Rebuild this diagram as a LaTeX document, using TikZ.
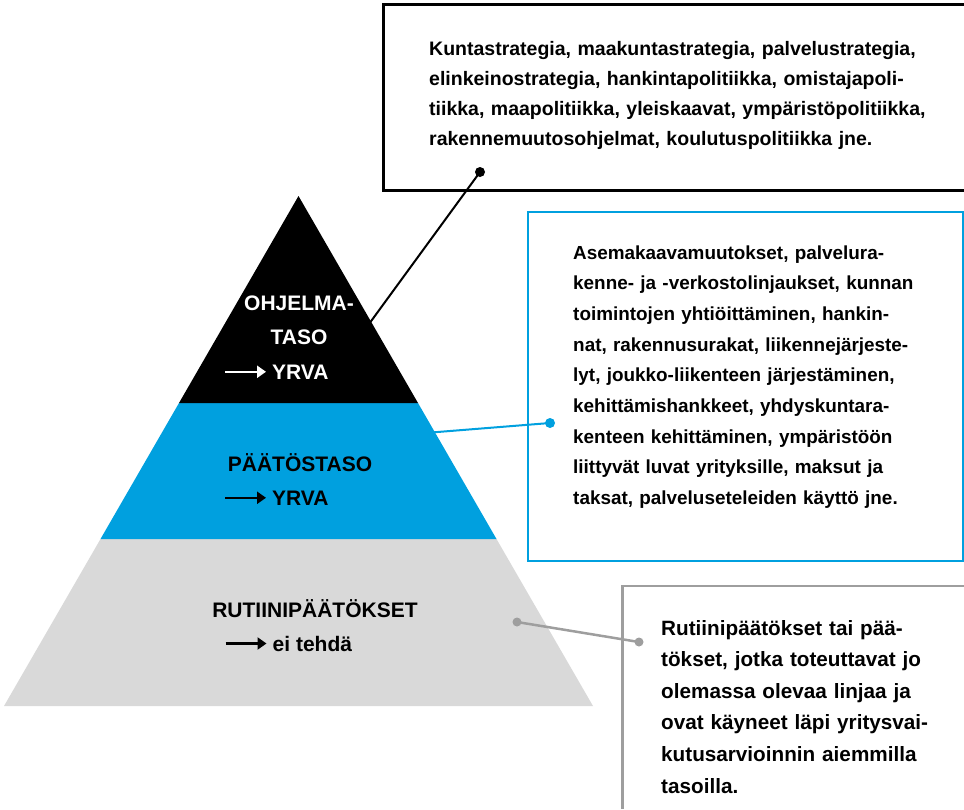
\documentclass[tikz,border=0pt]{standalone}
\usepackage{fontspec}
\setmainfont{Liberation Sans}
\newfontfamily\boxfont{Liberation Sans}
\usetikzlibrary{arrows.meta}

\definecolor{tierblack}{RGB}{0,0,0}
\definecolor{tierblue}{RGB}{0,160,223}
\definecolor{tiergray}{RGB}{217,217,217}
\definecolor{leadgray}{RGB}{158,158,158}

\tikzset{
  tierlabel/.style={inner sep=0pt, font=\bfseries\fontsize{21}{34}\selectfont},
  boxtext/.style={inner sep=0pt, anchor=base west, align=left, text width=560pt},
  boxframe/.style={line join=miter},
  lead/.style={line width=2pt},
  dot/.style={circle, inner sep=0pt, minimum size=10pt},
  pointer/.style={line width=2.4pt, -{Triangle[length=9pt,width=12pt]}},
}

\begin{document}
\begin{tikzpicture}[x=1pt, y=-1pt]

  %% ==== pyramid bands ====
  \fill[tiergray]  (4,706) -- (100.5,539) -- (496.5,539) -- (593,706) -- cycle;
  \fill[tierblue]  (100.5,539) -- (179,403) -- (418,403) -- (496.5,539) -- cycle;
  \fill[tierblack] (179,403) -- (298.5,196) -- (418,403) -- cycle;

  %% ==== frames (box 1 and box 3 run off the page) ====
  \draw[boxframe, black, line width=3pt] (964,4.7) -- (383.5,4.7) -- (383.5,190.3) -- (964,190.3);
  \draw[boxframe, tierblue, line width=2pt] (527.8,211.5) rectangle (962.5,560.5);
  \draw[boxframe, leadgray, line width=2.5pt] (964,586) -- (622.7,586) -- (622.7,809);

  %% ==== leads ====
  \coordinate (ohjin) at (350,350);
  \node[dot, fill=black] (ohjdot) at (480,172) {};
  \draw[lead, black] (ohjin) -- (ohjdot.center);

  \coordinate (paain) at (400,435);
  \node[dot, fill=tierblue] (paadot) at (550,423) {};
  \draw[lead, tierblue] (paain) -- (paadot.center);

  \node[dot, fill=leadgray, minimum size=9pt] (rutin) at (517,622) {};
  \node[dot, fill=leadgray, minimum size=9pt] (rutdot) at (639,642) {};
  \draw[lead, leadgray, line width=2.5pt] (rutin.center) -- (rutdot.center);

  %% ==== tier labels ====
  \node[tierlabel, text=white, text width=150pt, align=center, anchor=base] (ohjlabel) at (299,310) {OHJELMA-\\TASO};
  \node[tierlabel, text=white, anchor=base west] (ohjyrva) at (272,379) {YRVA};
  \draw[pointer, white] ([xshift=-47pt]ohjyrva.west) -- ([xshift=-6pt]ohjyrva.west);

  \node[tierlabel, anchor=base] (paalabel) at (300,471) {PÄÄTÖSTASO};
  \node[tierlabel, anchor=base west] (paayrva) at (272,505) {YRVA};
  \draw[pointer] ([xshift=-47pt]paayrva.west) -- ([xshift=-6pt]paayrva.west);

  \node[tierlabel, anchor=base] (rutlabel) at (315,617) {RUTIINIPÄÄTÖKSET};
  \node[tierlabel, anchor=base west] (rutei) at (272.5,651) {ei tehdä};
  \draw[pointer] ([xshift=-47pt]rutei.west) -- ([xshift=-6pt]rutei.west);

  %% ==== box texts ====
  \node[boxtext, font=\boxfont\bfseries\fontsize{19.5}{30}\selectfont] (ohjtxt) at (429,55) {Kuntastrategia, maakuntastrategia, palvelustrategia,\\
    elinkeinostrategia, hankintapolitiikka, omistajapoli-\\
    tiikka, maapolitiikka, yleiskaavat, ympäristöpolitiikka,\\
    rakennemuutosohjelmat, koulutuspolitiikka jne.};
  \node[boxtext, font=\boxfont\bfseries\fontsize{18.9}{30.7}\selectfont] (paatxt) at (573,259) {Asemakaavamuutokset, palvelura-\\
    kenne- ja -verkostolinjaukset, kunnan\\
    toimintojen yhtiöittäminen, hankin-\\
    nat, rakennusurakat, liikennejärjeste-\\
    lyt, joukko-liikenteen järjestäminen,\\
    kehittämishankkeet, yhdyskuntara-\\
    kenteen kehittäminen, ympäristöön\\
    liittyvät luvat yrityksille, maksut ja\\
    taksat, palveluseteleiden käyttö jne.};
  \node[boxtext, font=\boxfont\bfseries\fontsize{20.7}{31.6}\selectfont] (ruttxt) at (661,635) {Rutiinipäätökset tai pää-\\
    tökset, jotka toteuttavat jo\\
    olemassa olevaa linjaa ja\\
    ovat käyneet läpi yritysvai-\\
    kutusarvioinnin aiemmilla\\
    tasoilla.};

  \pgfresetboundingbox
  \path[use as bounding box] (0,0) rectangle (964,809);
\end{tikzpicture}
\end{document}
